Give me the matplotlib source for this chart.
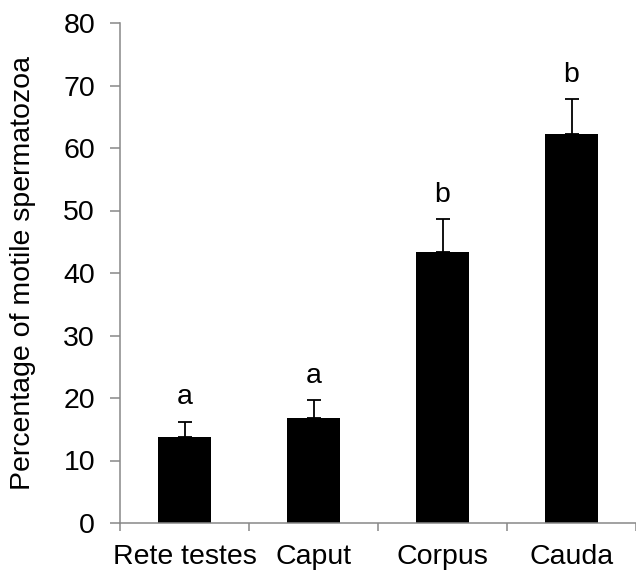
import matplotlib
matplotlib.use("Agg")
import matplotlib.pyplot as plt
import numpy as np

categories = ["Rete testes", "Caput", "Corpus", "Cauda"]
means = [13.8, 16.8, 43.4, 62.2]
sem = [2.4, 2.9, 5.2, 5.6]
letters = ["a", "a", "b", "b"]
yticks = [0, 10, 20, 30, 40, 50, 60, 70, 80]

plt.rcParams['font.family'] = ['Liberation Sans', 'DejaVu Sans']
FS = 20.5

W, H = 636, 580
fig = plt.figure(figsize=(W/100, H/100), dpi=100)
ax = fig.add_axes([120/W, 57/H, (W-120)/W, 500/H])

x = np.arange(len(categories))
ax.bar(x, means, width=0.41, color='black', zorder=2)
ax.errorbar(x, means, yerr=[np.zeros(len(sem)), sem], fmt='none', ecolor='black',
            elinewidth=1.3, capsize=5, capthick=1.3, zorder=3)
for xi, m, s, l in zip(x, means, sem, letters):
    ax.text(xi, m + s + 1.8, l, ha='center', va='bottom', fontsize=FS)

ax.set_xlim(-0.5, -0.5 + (W-120)/130)
ax.set_ylim(0, 80)
ax.set_yticks(yticks)
ax.tick_params(axis='y', labelsize=FS, length=7, width=1.1, color='#888888', pad=11, direction='out')
ax.set_xticks(x)
ax.set_xticklabels(categories)
ax.tick_params(axis='x', which='major', length=0, labelsize=FS, pad=15)
ax.set_xticks([-0.5, 0.5, 1.5, 2.5, 3.5], minor=True)
ax.tick_params(axis='x', which='minor', length=6, width=1.1, color='#888888', direction='out')

for s in ['top', 'right']:
    ax.spines[s].set_visible(False)
for s in ['left', 'bottom']:
    ax.spines[s].set_color('#888888')
    ax.spines[s].set_linewidth(1.1)

fig.text(23/W, 1 - 273/H, "Percentage of motile spermatozoa", rotation=90,
         ha='center', va='center', fontsize=FS)

fig.savefig("out.png", dpi=100)
